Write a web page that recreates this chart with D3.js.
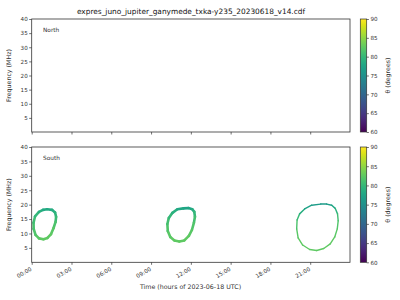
<!DOCTYPE html>
<html>
<head>
<meta charset="utf-8">
<script src="https://cdn.jsdelivr.net/npm/d3@7"></script>
<style>
  body { margin: 0; background: #fff; }
  svg { display: block; font-family: "DejaVu Sans", sans-serif; }
  text { text-rendering: geometricPrecision; opacity: 0.999; }
</style>
</head>
<body>
<svg id="chart" width="400" height="300"></svg>
<script>
// data
var title = 'expres_juno_jupiter_ganymede_txka-y235_20230618_v14.cdf'
var hemispheres = ['North', 'South']
var xTicks = [0, 3, 6, 9, 12, 15, 18, 21]
var yTicks = [5, 10, 15, 20, 25, 30, 35, 40]
var cbTicks = [60, 65, 70, 75, 80, 85, 90]

// South emission loops: time (h), frequency (MHz), theta (deg)
var loop1Time = [1.16, 1.53, 1.76, 1.84, 1.80, 1.65, 1.46, 1.19, 0.89, 0.55, 0.29, 0.15, 0.14, 0.25, 0.55, 0.85]
var loop1Freq = [18.4, 18.2, 17.3, 15.8, 14.0, 11.9, 9.8, 8.45, 8.0, 8.3, 9.5, 11.6, 13.7, 15.9, 17.5, 18.2]
var loop1Theta = [78, 78.5, 79, 80, 81, 82, 82.5, 82.5, 82.5, 82.5, 82, 81.5, 81, 80.5, 79.5, 78.5]

var loop2Time = [11.44, 11.81, 12.11, 12.26, 12.31, 12.23, 12.08, 11.85, 11.51, 11.13, 10.76, 10.45, 10.26, 10.23, 10.34, 10.61, 10.98]
var loop2Freq = [18.7, 18.8, 18.4, 17.5, 15.8, 13.7, 11.2, 9.15, 7.6, 7.2, 7.6, 8.8, 10.9, 13.3, 15.4, 17.15, 18.4]
var loop2Theta = [77.5, 77.5, 78, 79.5, 80.5, 81.5, 82, 82.5, 82.5, 82.5, 82.5, 82.5, 82, 81.5, 80.5, 79.5, 78.5]

var loop3Time = [21.79, 22.24, 22.62, 22.89, 23.06, 23.11, 23.04, 22.85, 22.51, 22.02, 21.49, 20.96, 20.43, 20.09, 19.98, 20.01, 20.20, 20.58, 21.11]
var loop3Freq = [20.2, 20.2, 19.8, 18.7, 16.8, 14.4, 11.6, 8.8, 6.4, 4.8, 4.1, 4.45, 6.0, 8.45, 11.6, 14.7, 16.8, 18.5, 19.8]
var loop3Theta = [76.5, 76.5, 77, 78.5, 80, 81.5, 82, 82.5, 82.5, 82.5, 82.5, 82.5, 82.5, 82.5, 82, 81, 79.5, 78, 76.5]

var loops = [
  { time: loop1Time, freq: loop1Freq, theta: loop1Theta, width: 2.6 },
  { time: loop2Time, freq: loop2Freq, theta: loop2Theta, width: 2.6 },
  { time: loop3Time, freq: loop3Freq, theta: loop3Theta, width: 1.4 }
]

// layout
var left = 31.7, right = 350
var panels = [{ top: 19, bottom: 132 }, { top: 147, bottom: 262.3 }]
var cbLeft = 360.3, cbWidth = 6.4
var ink = '#333'
var svg = d3.select('#chart')

var x = d3.scaleLinear().domain([0, 24]).range([left, right])
var color = d3.scaleSequential(d3.interpolateViridis).domain([60, 90])

function fmtHour(h) { return (h < 10 ? '0' : '') + h + ':00' }

// gradient for colorbars
var grad = svg.append('defs').append('linearGradient')
  .attr('id', 'viridis').attr('x1', 0).attr('y1', 1).attr('x2', 0).attr('y2', 0)
d3.range(0, 1.0001, 0.05).forEach(function(t) {
  grad.append('stop').attr('offset', t).attr('stop-color', d3.interpolateViridis(t))
})

svg.append('text')
  .attr('x', 191).attr('y', 13.5)
  .attr('text-anchor', 'middle').attr('font-size', 7.4).attr('fill', '#111')
  .text(title)

panels.forEach(function(p, i) {
  var y = d3.scaleLinear().domain([0, 40]).range([p.bottom, p.top])
  var g = svg.append('g')

  // y axis
  var ya = g.append('g').attr('transform', 'translate(' + left + ',0)')
    .call(d3.axisLeft(y).tickValues(yTicks).tickSize(2.5).tickPadding(1.5).tickSizeOuter(0))
  ya.select('.domain').remove()
  ya.selectAll('line').attr('stroke', ink).attr('stroke-width', 0.7)
  ya.selectAll('text').attr('font-size', 5.6).attr('fill', ink).attr('font-family', 'DejaVu Sans')

  // x axis
  var xa = g.append('g').attr('transform', 'translate(0,' + p.bottom + ')')
    .call(d3.axisBottom(x).tickValues(xTicks).tickSize(2.5).tickSizeOuter(0).tickFormat(fmtHour))
  xa.select('.domain').remove()
  xa.selectAll('line').attr('stroke', ink).attr('stroke-width', 0.7)
  if (i === 0) {
    xa.selectAll('text').remove()
  } else {
    xa.selectAll('text')
      .attr('font-size', 5.6).attr('fill', ink).attr('font-family', 'DejaVu Sans')
      .attr('text-anchor', 'end').attr('dy', 0).attr('y', 0)
      .attr('transform', 'translate(0,8) rotate(-30)')
  }

  g.append('text')
    .attr('transform', 'translate(11,' + ((p.top + p.bottom) / 2) + ') rotate(-90)')
    .attr('text-anchor', 'middle').attr('font-size', 6.3).attr('fill', ink)
    .text('Frequency (MHz)')

  g.append('text')
    .attr('x', 43).attr('y', (p.top + 12.5))
    .attr('font-size', 5.8).attr('fill', ink)
    .text(hemispheres[i])

  // loops in south panel
  if (i === 1) {
    loops.forEach(function(L) {
      var n = L.time.length
      for (var k = 0; k < n; k++) {
        var j = (k + 1) % n
        g.append('line')
          .attr('x1', x(L.time[k])).attr('y1', y(L.freq[k]))
          .attr('x2', x(L.time[j])).attr('y2', y(L.freq[j]))
          .attr('stroke', color((L.theta[k] + L.theta[j]) / 2))
          .attr('stroke-width', L.width).attr('stroke-linecap', 'round')
      }
    })
  }

  // frame
  g.append('rect')
    .attr('x', left).attr('y', p.top).attr('width', right - left).attr('height', p.bottom - p.top)
    .attr('fill', 'none').attr('stroke', ink).attr('stroke-width', 0.8)

  // colorbar
  var cy = d3.scaleLinear().domain([60, 90]).range([p.bottom, p.top])
  g.append('rect')
    .attr('x', cbLeft).attr('y', p.top).attr('width', cbWidth).attr('height', p.bottom - p.top)
    .attr('fill', 'url(#viridis)').attr('stroke', ink).attr('stroke-width', 0.7)
  var ca = g.append('g').attr('transform', 'translate(' + (cbLeft + cbWidth) + ',0)')
    .call(d3.axisRight(cy).tickValues(cbTicks).tickSize(2.2).tickPadding(1.5).tickSizeOuter(0))
  ca.select('.domain').remove()
  ca.selectAll('line').attr('stroke', ink).attr('stroke-width', 0.7)
  ca.selectAll('text').attr('font-size', 5.6).attr('fill', ink).attr('font-family', 'DejaVu Sans')

  g.append('text')
    .attr('transform', 'translate(389.5,' + ((p.top + p.bottom) / 2) + ') rotate(-90)')
    .attr('text-anchor', 'middle').attr('font-size', 6.3).attr('fill', ink)
    .text('\u03b8 (degrees)')
})

svg.append('text')
  .attr('x', 190.5).attr('y', 289)
  .attr('text-anchor', 'middle').attr('font-size', 6.3).attr('fill', ink)
  .text('Time (hours of 2023-06-18 UTC)')
</script>
</body>
</html>
